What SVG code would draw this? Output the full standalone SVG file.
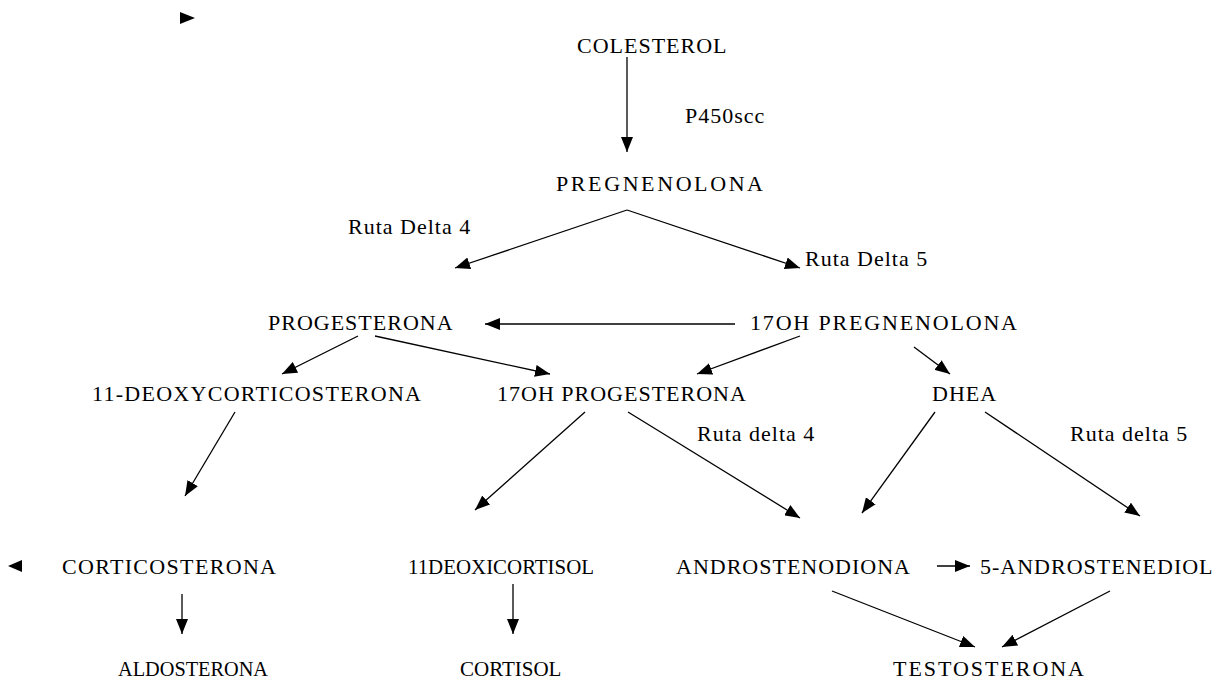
<svg xmlns="http://www.w3.org/2000/svg" width="1218" height="684" viewBox="0 0 1218 684">
<defs>
<marker id="ah" markerUnits="userSpaceOnUse" markerWidth="15" markerHeight="12" refX="15" refY="6" orient="auto">
<path d="M0,0 L15,6 L0,12 z" fill="#000"/>
</marker>
<style>
text{font-family:"Liberation Serif","Times New Roman",serif;font-size:22px;fill:#000;letter-spacing:1px}
text.n{font-size:21px;letter-spacing:0}
.c{stroke:#000;stroke-width:1.3;fill:none;marker-end:url(#ah)}
</style>
</defs>
<rect width="1218" height="684" fill="#fff"/>
<path d="M180,12 L195,18 L180,24 z" fill="#000"/>
<path d="M22,560 L8,566 L22,572 z" fill="#000"/>
<g id="n-colesterol"><text x="577" y="53">COLESTEROL</text></g>
<g id="n-p450"><text x="685" y="123">P450scc</text></g>
<g id="n-pregnenolona"><text x="556" y="191" textLength="208" lengthAdjust="spacing">PREGNENOLONA</text></g>
<g id="n-ruta4a"><text x="348" y="234">Ruta Delta 4</text></g>
<g id="n-ruta5a"><text x="805" y="266">Ruta Delta 5</text></g>
<g id="n-progesterona"><text x="268" y="330">PROGESTERONA</text></g>
<g id="n-17ohpreg"><text x="750" y="330" textLength="268" lengthAdjust="spacing">17OH PREGNENOLONA</text></g>
<g id="n-11doc"><text x="92" y="401" textLength="330" lengthAdjust="spacing">11-DEOXYCORTICOSTERONA</text></g>
<g id="n-17ohprog"><text x="497" y="401">17OH PROGESTERONA</text></g>
<g id="n-dhea"><text x="932" y="401">DHEA</text></g>
<g id="n-ruta4b"><text x="697" y="441">Ruta delta 4</text></g>
<g id="n-ruta5b"><text x="1070" y="441">Ruta delta 5</text></g>
<g id="n-corticosterona"><text x="62" y="574" textLength="215" lengthAdjust="spacing">CORTICOSTERONA</text></g>
<g id="n-11deoxicortisol"><text class="n" x="408" y="574" textLength="186" lengthAdjust="spacingAndGlyphs">11DEOXICORTISOL</text></g>
<g id="n-androstenodiona"><text x="676" y="574">ANDROSTENODIONA</text></g>
<g id="n-5androstenediol"><text x="980" y="574">5-ANDROSTENEDIOL</text></g>
<g id="n-aldosterona"><text class="n" x="118" y="676" textLength="150" lengthAdjust="spacingAndGlyphs">ALDOSTERONA</text></g>
<g id="n-cortisol"><text class="n" x="460" y="676">CORTISOL</text></g>
<g id="n-testosterona"><text x="893" y="676" textLength="192" lengthAdjust="spacing">TESTOSTERONA</text></g>
<g id="connectors">
<line class="c" x1="627" y1="57" x2="627" y2="152"/>
<line class="c" x1="627" y1="210" x2="455" y2="268"/>
<line class="c" x1="627" y1="210" x2="800" y2="268"/>
<line class="c" x1="735" y1="324" x2="485" y2="324"/>
<line class="c" x1="358" y1="336" x2="282" y2="374"/>
<line class="c" x1="375" y1="336" x2="550" y2="374"/>
<line class="c" x1="800" y1="336" x2="697" y2="374"/>
<line class="c" x1="914" y1="347" x2="950" y2="374"/>
<line class="c" x1="235" y1="412" x2="185" y2="496"/>
<line class="c" x1="585" y1="412" x2="475" y2="510"/>
<line class="c" x1="628" y1="412" x2="800" y2="518"/>
<line class="c" x1="935" y1="412" x2="862" y2="513"/>
<line class="c" x1="985" y1="412" x2="1140" y2="516"/>
<line class="c" x1="937" y1="566" x2="970" y2="566"/>
<line class="c" x1="182" y1="594" x2="182" y2="634"/>
<line class="c" x1="513" y1="584" x2="513" y2="634"/>
<line class="c" x1="832" y1="591" x2="975" y2="647"/>
<line class="c" x1="1110" y1="591" x2="1002" y2="647"/>
</g>
</svg>
